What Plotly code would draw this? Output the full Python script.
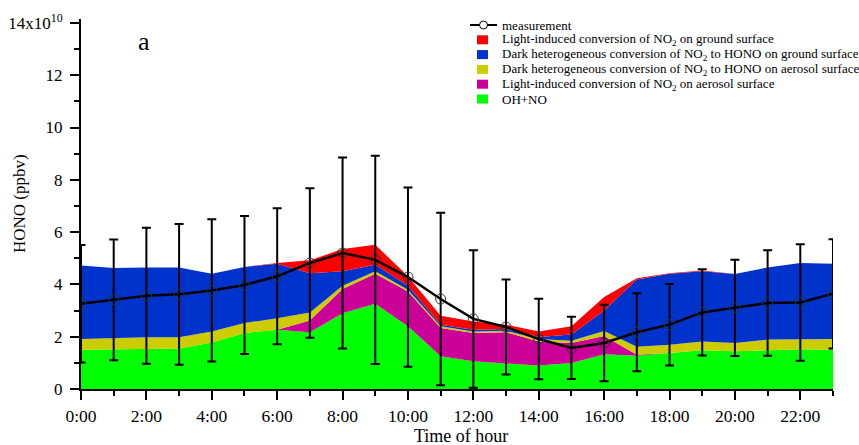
import plotly.graph_objects as go

hours = list(range(24))
x_tick_vals = [0, 2, 4, 6, 8, 10, 12, 14, 16, 18, 20, 22]
x_tick_text = ["0:00", "2:00", "4:00", "6:00", "8:00", "10:00", "12:00",
               "14:00", "16:00", "18:00", "20:00", "22:00"]
y_tick_vals = [0, 2, 4, 6, 8, 10, 12, 14]
y_tick_text = ["0", "2", "4", "6", "8", "10", "12", "14x10<sup>10</sup>"]

# values in units of 1e10
measurement = [3.26, 3.41, 3.57, 3.62, 3.77, 3.98, 4.31, 4.82, 5.20, 4.94, 4.28, 3.44,
               2.68, 2.37, 1.91, 1.57, 1.76, 2.17, 2.46, 2.93, 3.10, 3.29, 3.31, 3.64]
measurement_err = [2.25, 2.31, 2.60, 2.69, 2.72, 2.64, 2.60, 2.86, 3.65, 3.98, 3.43, 3.30,
                   2.63, 1.82, 1.54, 1.19, 1.46, 1.49, 1.56, 1.65, 1.84, 2.02, 2.23, 2.09]

oh_no = [1.50, 1.52, 1.53, 1.55, 1.78, 2.14, 2.27, 2.17, 2.90, 3.26, 2.40, 1.25,
         1.06, 0.99, 0.90, 0.99, 1.33, 1.27, 1.38, 1.48, 1.44, 1.48, 1.52, 1.50]
light_aerosol = [0, 0, 0, 0, 0, 0, 0, 0.45, 0.92, 1.15, 1.33, 1.08,
                 1.08, 1.18, 0.92, 0.77, 0.70, 0.04, 0, 0, 0, 0, 0, 0]
dark_aerosol = [0.41, 0.42, 0.45, 0.43, 0.42, 0.38, 0.44, 0.31, 0.13, 0.09, 0.07, 0.07,
                0.06, 0.06, 0.09, 0.09, 0.19, 0.31, 0.31, 0.34, 0.32, 0.41, 0.39, 0.41]
dark_ground = [2.81, 2.69, 2.67, 2.67, 2.21, 2.15, 2.08, 1.50, 0.55, 0.25, 0.15, 0.06,
               0.07, 0.06, 0.08, 0.23, 0.78, 2.57, 2.72, 2.68, 2.64, 2.76, 2.91, 2.88]
light_ground = [0, 0, 0, 0, 0, 0, 0.03, 0.49, 0.85, 0.77, 0.36, 0.34,
                0.31, 0.17, 0.21, 0.32, 0.52, 0.05, 0.02, 0.03, 0, 0, 0, 0]

series_names = [
    "OH+NO",
    "Light-induced conversion of NO<sub>2</sub> on aerosol surface",
    "Dark heterogeneous conversion of NO<sub>2</sub> to HONO on aerosol surface",
    "Dark heterogeneous conversion of NO<sub>2</sub> to HONO on ground surface",
    "Light-induced conversion of NO<sub>2</sub> on ground surface",
]
series_values = [oh_no, light_aerosol, dark_aerosol, dark_ground, light_ground]
series_colors = ["#00FF00", "#CC0099", "#CCCC00", "#0033CC", "#FF0000"]

FONT = "Liberation Serif"
W, H = 859, 445
ML, MR, MT, MB = 81, 26, 19, 56
PW, PH = W - ML - MR, H - MT - MB


def px(x):
    return (x - ML) / PW


def py(y):
    return 1 - (y - MT) / PH


fig = go.Figure()
for name, vals, color in zip(series_names, series_values, series_colors):
    fig.add_trace(go.Scatter(
        x=hours, y=vals, name=name, mode="lines", stackgroup="one",
        line=dict(width=0, color=color), fillcolor=color, showlegend=False,
    ))

fig.add_trace(go.Scatter(
    x=hours, y=measurement, name="measurement", mode="lines+markers",
    line=dict(color="black", width=2.5), showlegend=False,
    marker=dict(symbol="circle-open", size=10, color="#333333", line=dict(width=1)),
    error_y=dict(type="data", array=measurement_err, visible=True,
                 color="black", thickness=2, width=4.5),
))

# legend drawn as text + symbols (compact row spacing like the original)
row0, step = 25, 14.8
fig.add_shape(type="line", xref="paper", yref="paper",
              x0=px(470), x1=px(497), y0=py(row0), y1=py(row0),
              line=dict(color="black", width=2))
fig.add_shape(type="circle", xref="paper", yref="paper",
              x0=px(479.5), x1=px(487.5), y0=py(row0 - 4), y1=py(row0 + 4),
              line=dict(color="black", width=1), fillcolor="white")
fig.add_annotation(x=px(500), y=py(row0), xref="paper", yref="paper",
                   text="measurement", showarrow=False, xanchor="left",
                   yanchor="middle", font=dict(family=FONT, size=13))
legend_order = list(zip(series_names, series_colors))[::-1]
for i, (name, color) in enumerate(legend_order, start=1):
    yc = row0 + i * step
    fig.add_shape(type="rect", xref="paper", yref="paper",
                  x0=px(477), x1=px(488), y0=py(yc - 4.5), y1=py(yc + 4.5),
                  line=dict(width=0), fillcolor=color)
    fig.add_annotation(x=px(500), y=py(yc), xref="paper", yref="paper",
                       text=name, showarrow=False, xanchor="left",
                       yanchor="middle", font=dict(family=FONT, size=13))

fig.update_layout(
    width=W, height=H,
    margin=dict(l=ML, r=MR, t=MT, b=MB, autoexpand=False),
    paper_bgcolor="white", plot_bgcolor="white",
    font=dict(family=FONT, color="black", size=16),
    showlegend=False,
)
fig.update_xaxes(
    range=[0, 23], tickvals=x_tick_vals, ticktext=x_tick_text, automargin=False,
    showgrid=False, zeroline=False, showline=True, linecolor="black", linewidth=2,
    ticks="outside", ticklen=9, tickwidth=2, tickcolor="black",
    minor=dict(dtick=1, ticks="outside", ticklen=5, tickwidth=2, tickcolor="black"),
    tickfont=dict(size=17.5), ticklabelstandoff=1,
)
fig.update_yaxes(
    range=[0, 14.15], tickvals=y_tick_vals, ticktext=y_tick_text, automargin=False,
    showgrid=False, zeroline=False, showline=True, linecolor="black", linewidth=2,
    ticks="outside", ticklen=9, tickwidth=2, tickcolor="black",
    minor=dict(tickvals=[1, 3, 5, 7, 9, 11, 13], ticks="outside", ticklen=5,
               tickwidth=2, tickcolor="black"),
    tickfont=dict(size=17), ticklabelstandoff=4,
)
fig.add_annotation(x=px(461), y=py(435.5), xref="paper", yref="paper",
                   text="Time of hour", showarrow=False,
                   xanchor="center", yanchor="middle",
                   font=dict(family=FONT, size=18))
fig.add_annotation(x=px(19), y=py(204), xref="paper", yref="paper",
                   text="HONO (ppbv)", showarrow=False, textangle=-90,
                   xanchor="center", yanchor="middle",
                   font=dict(family=FONT, size=17))
fig.add_annotation(x=px(144), y=py(41), xref="paper", yref="paper", text="a",
                   showarrow=False, xanchor="center", yanchor="middle",
                   font=dict(family=FONT, size=26))

fig.write_html(
    "out.html",
    config={"displayModeBar": False},
    post_script="document.body.style.margin='0';document.body.style.overflow='hidden';",
)
